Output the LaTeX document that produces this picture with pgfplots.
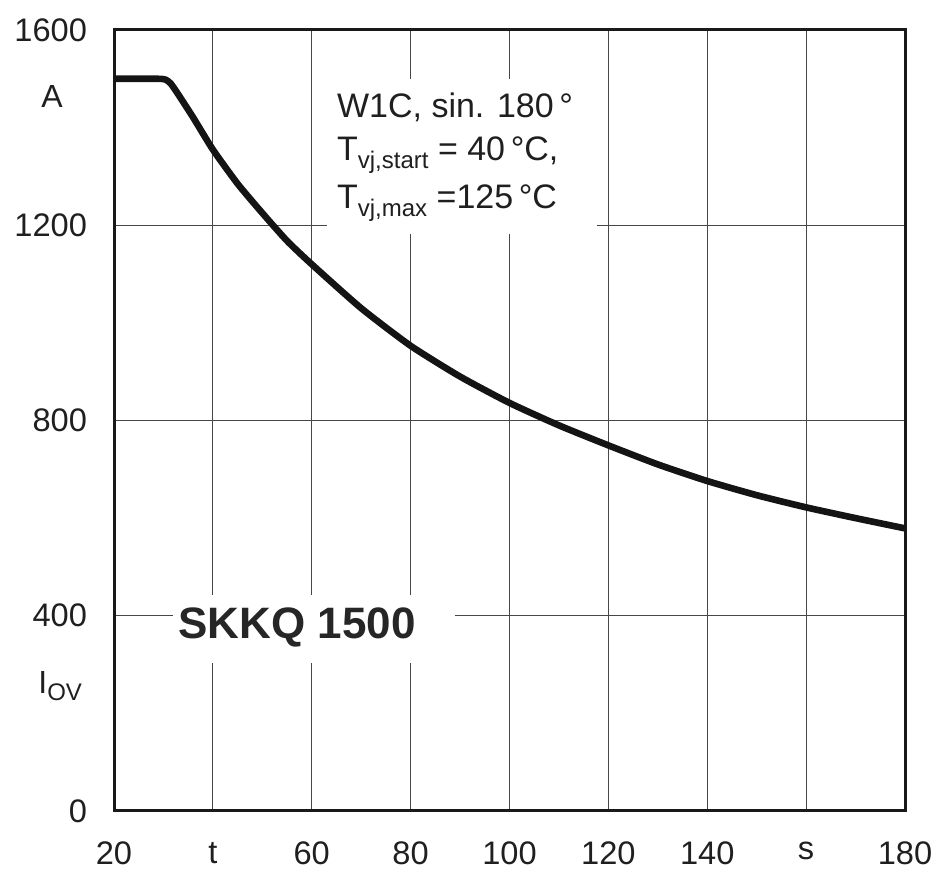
\documentclass[border=0pt]{standalone}
\usepackage{pgfplots}
\pgfplotsset{compat=1.18}
\usepackage{fontspec}
\setmainfont{Liberation Sans}
\begin{document}
\begin{tikzpicture}
\useasboundingbox (-57pt,-32.5pt) rectangle (411pt,405.5pt);
\begin{axis}[
  at={(0pt,0pt)}, anchor=south west,
  scale only axis, width=395.5pt, height=390.5pt,
  xmin=20, xmax=180, ymin=0, ymax=1600,
  xtick={20,40,...,180},
  xticklabels={20,t,60,80,100,120,140,s,180},
  ytick={0,400,800,1200,1600},
  grid=major,
  major grid style={black!72, line width=0.6pt},
  major tick length=0pt,
  axis line style={black!90, line width=1.5pt},
  tick label style={font=\fontsize{16.3}{16}\selectfont, text=black!88},
  xticklabel style={yshift=-12pt},
  yticklabel style={xshift=-10pt},
  /pgf/number format/assume math mode=true,
  /pgf/number format/1000 sep={},
  clip=false,
]
\fill[white] (axis cs:63,1183) rectangle (axis cs:117.6,1500);
\fill[white] (axis cs:31.9,303) rectangle (axis cs:88.9,442);
\addplot[black!92, line width=3.3pt, smooth, tension=0.35] coordinates {
 (20,1500) (29,1500) (30.5,1498) (31.5,1490) (33,1468) (36,1421) (40,1355)
 (45,1285) (50,1225) (55,1168) (60,1120) (70,1030) (80,953) (90,890)
 (100,836) (110,790) (120,749) (130,710) (140,676) (150,647) (160,622)
 (170,600) (180,579)
};
\node[anchor=base west, inner sep=0pt, font=\fontsize{17}{17}\selectfont, text=black!88] at (axis cs:65.05,1420) {W1C, sin. 180\,°};
\node[anchor=base west, inner sep=0pt, font=\fontsize{17}{17}\selectfont, text=black!88] at (axis cs:65.05,1332) {T\raisebox{-0.45ex}{\fontsize{12}{12}\selectfont vj,start} = 40\,°C,};
\node[anchor=base west, inner sep=0pt, font=\fontsize{17}{17}\selectfont, text=black!88] at (axis cs:65.05,1234) {T\raisebox{-0.45ex}{\fontsize{12}{12}\selectfont vj,max} =125\,°C};
\node[inner sep=0pt, font=\fontsize{22}{22}\bfseries\selectfont, text=black!85] at (axis cs:57,376) {SKKQ 1500};
\end{axis}
\node[font=\fontsize{16}{16}\selectfont, text=black!88] at (-31pt,357pt) {A};
\node[anchor=west, inner sep=0pt, font=\fontsize{16}{16}\selectfont, text=black!88] at (-38pt,62.5pt) {I\raisebox{-0.4ex}{\fontsize{12}{12}\selectfont OV}};
\end{tikzpicture}
\end{document}
